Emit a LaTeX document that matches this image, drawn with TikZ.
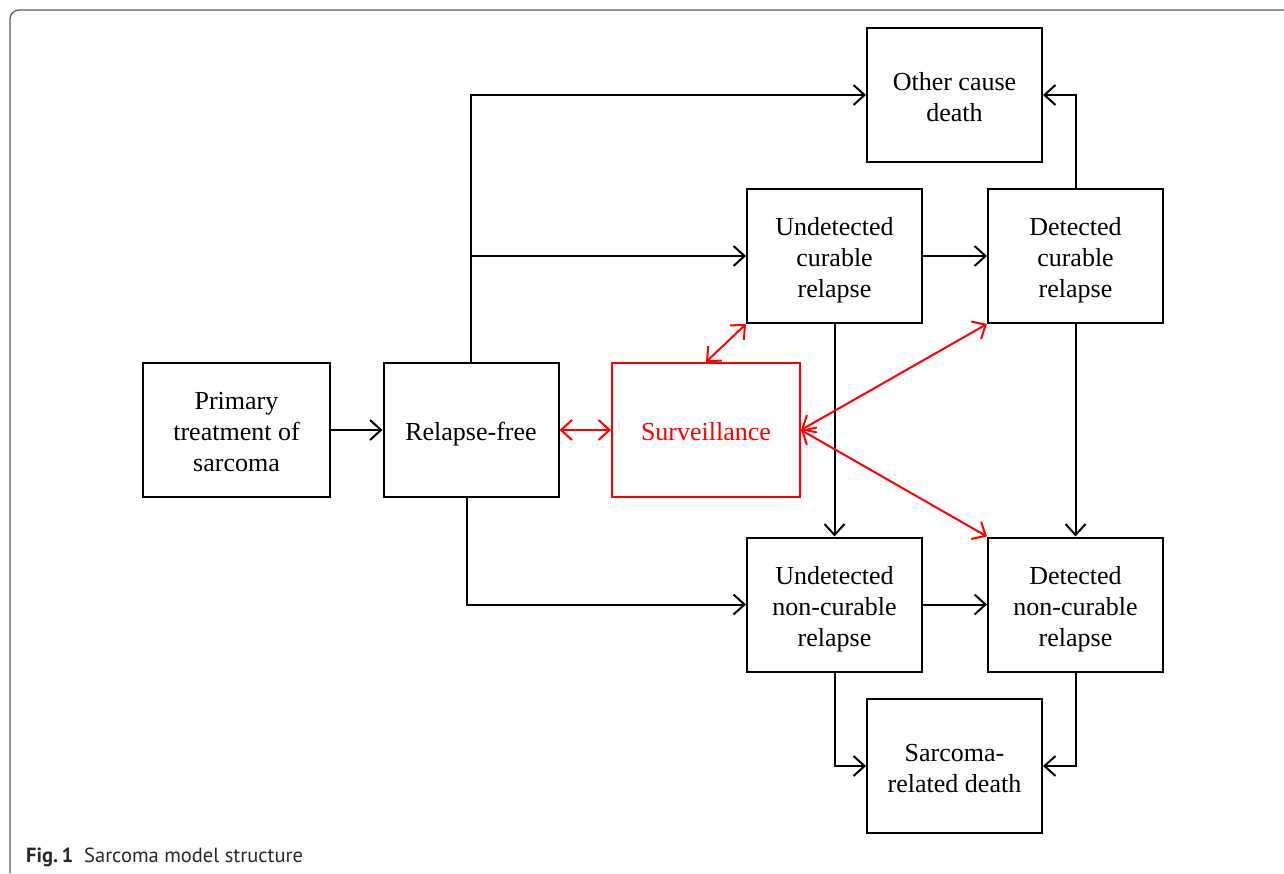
\documentclass[tikz,border=0pt]{standalone}
\usepackage{fontspec}
\setmainfont{Liberation Serif}
\newfontfamily\capfont{PT Sans}
\usetikzlibrary{arrows.meta}
\definecolor{framegray}{RGB}{90,90,90}
\definecolor{captext}{RGB}{40,40,40}
\definecolor{survred}{RGB}{255,0,0}
\newcommand\boxlines[1]{\raisebox{0pt}[\dimexpr\height+9pt\relax][\depth]{\begin{tabular}{@{}c@{}}#1\end{tabular}}}
\tikzset{
  box/.style={draw=black, line width=2pt, minimum width=175pt, minimum height=134pt, inner sep=0pt, font=\fontsize{26}{31}\selectfont},
  redbox/.style={box, draw=survred, text=survred},
  tip/.tip={Straight Barb[length=11pt, width=20pt, line width=2pt]},
  arr/.style={line width=2pt, -tip},
  redarr/.style={line width=2pt, draw=survred, tip-tip},
}
\begin{document}
\begin{tikzpicture}[x=1pt, y=-1pt]
\useasboundingbox (0,0) rectangle (1284,873);
% frame
\draw[framegray, line width=1.3pt] (10,873) -- (10,19) arc[start angle=180, end angle=270, radius=9] -- (1284,10);
\node[anchor=base west, inner sep=0pt, text=captext, font=\capfont\fontsize{20.5}{24}\selectfont] (cap) at (26,862) {\textbf{Fig.\,1}\hspace{11pt}Sarcoma model structure};
% nodes
\node[box, minimum width=187pt] (pt) at (236.5,430) {\boxlines{Primary\\treatment of\\sarcoma}};
\node[box] (rf) at (471,430) {\boxlines{Relapse-free}};
\node[redbox, minimum width=188pt] (sv) at (706,430) {\boxlines{Surveillance}};
\node[box] (ocd) at (954.5,95) {\boxlines{Other cause\\death}};
\node[box] (ucr) at (834.5,256) {\boxlines{Undetected\\curable\\relapse}};
\node[box] (dcr) at (1075.5,256) {\boxlines{Detected\\curable\\relapse}};
\node[box] (unr) at (834.5,604.5) {\boxlines{Undetected\\non-curable\\relapse}};
\node[box] (dnr) at (1075.5,604.5) {\boxlines{Detected\\non-curable\\relapse}};
\node[box] (srd) at (954.5,766) {\boxlines{Sarcoma-\\related death}};
% black connectors
\draw[arr] (pt) -- (rf);
\draw[arr] (rf.north) |- (ocd.west);
\draw[arr] (rf.north |- ucr.west) -- (ucr.west);
\draw[arr] ([xshift=-4pt]rf.south) |- (unr.west);
\draw[arr] (ucr) -- (dcr);
\draw[arr] (unr) -- (dnr);
\draw[arr] (ucr.south) -- (unr.north);
\draw[arr] (dcr.south) -- (dnr.north);
\draw[arr] (dcr.north) |- (ocd.east);
\draw[arr] (unr.south) |- (srd.west);
\draw[arr] (dnr.south) |- (srd.east);
% red connectors
\draw[redarr] (rf.east) -- (sv.west);
\draw[redarr] (sv.north) -- (ucr.south west);
\draw[redarr] (sv.east) -- (dcr.south west);
\draw[redarr] (sv.east) -- (dnr.north west);
\end{tikzpicture}
\end{document}
